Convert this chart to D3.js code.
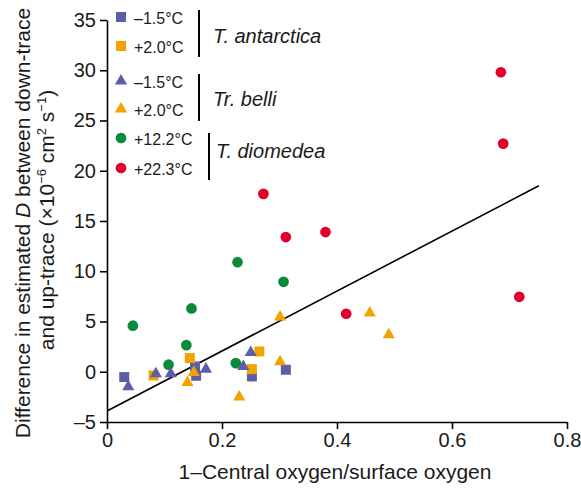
<!DOCTYPE html>
<html>
<head>
<meta charset="utf-8">
<script src="https://cdn.jsdelivr.net/npm/d3@7"></script>
<style>
  body { margin: 0; background: #fff; }
  text { font-family: "Liberation Sans", Arial, sans-serif; fill: #1a1a1a; }
  .axis path, .axis line { stroke: #000; stroke-width: 1.6; }
  .axis text { font-size: 20px; fill: #1a1a1a; }
</style>
</head>
<body>
<svg id="chart" width="581" height="488"></svg>
<script>
// values
const xTicks = [0, 0.2, 0.4, 0.6, 0.8];
const yTicks = [-5, 0, 5, 10, 15, 20, 25, 30, 35];

// T. antarctica
const antColdX = [0.030, 0.153, 0.155, 0.252, 0.311];
const antColdY = [-0.53, 0.53, -0.4, -0.47, 0.2];
const antWarmX = [0.081, 0.144, 0.252, 0.265];
const antWarmY = [-0.37, 1.36, 0.26, 2.02];
// Tr. belli
const belColdX = [0.037, 0.085, 0.111, 0.172, 0.237, 0.250];
const belColdY = [-1.5, -0.2, -0.2, 0.26, 0.53, 1.92];
const belWarmX = [0.140, 0.151, 0.230, 0.301, 0.301, 0.457, 0.490];
const belWarmY = [-1.06, -0.07, -2.52, 1.0, 5.44, 5.84, 3.68];
// T. diomedea
const dioColdX = [0.045, 0.107, 0.138, 0.147, 0.227, 0.224, 0.307];
const dioColdY = [4.58, 0.7, 2.65, 6.3, 10.9, 0.86, 8.95];
const dioWarmX = [0.272, 0.311, 0.380, 0.416, 0.685, 0.689, 0.717];
const dioWarmY = [17.7, 13.4, 13.9, 5.77, 29.8, 22.7, 7.46];

// fitted line end points
const fitX = [0, 0.751];
const fitY = [-3.9, 18.5];

const blue = "#5c5ea8", orange = "#f2a300", green = "#0a8a3a", red = "#e2002a";

const series = [
  { x: dioColdX, y: dioColdY, shape: d3.symbolCircle, size: 90, color: green, label: "+12.2°C" },
  { x: dioWarmX, y: dioWarmY, shape: d3.symbolCircle, size: 90, color: red, label: "+22.3°C" },
  { x: antColdX, y: antColdY, shape: d3.symbolSquare, size: 100, color: blue, label: "\u20131.5°C" },
  { x: antWarmX, y: antWarmY, shape: d3.symbolSquare, size: 100, color: orange, label: "+2.0°C" },
  { x: belColdX, y: belColdY, shape: d3.symbolTriangle, size: 64, color: blue, label: "\u20131.5°C" },
  { x: belWarmX, y: belWarmY, shape: d3.symbolTriangle, size: 64, color: orange, label: "+2.0°C" }
];

const svg = d3.select("#chart");
const x = d3.scaleLinear().domain([0, 0.8]).range([107, 567]);
const y = d3.scaleLinear().domain([-5, 35]).range([422, 20]);

// axes
svg.append("g").attr("class", "axis")
  .attr("transform", "translate(0,422)")
  .call(d3.axisBottom(x).tickValues(xTicks).tickSize(7).tickSizeOuter(0).tickPadding(4)
    .tickFormat(d => d === 0 ? "0" : d3.format(".1f")(d)));
svg.append("g").attr("class", "axis")
  .attr("transform", "translate(107,0)")
  .call(d3.axisLeft(y).tickValues(yTicks).tickSize(7).tickSizeOuter(0).tickPadding(4)
    .tickFormat(d => d < 0 ? "\u2013" + Math.abs(d) : d));

// regression line
svg.append("line")
  .attr("x1", x(fitX[0])).attr("y1", y(fitY[0]))
  .attr("x2", x(fitX[1])).attr("y2", y(fitY[1]))
  .attr("stroke", "#000").attr("stroke-width", 1.6);

// points
series.forEach(s => {
  const sym = d3.symbol().type(s.shape).size(s.size);
  svg.append("g").selectAll("path")
    .data(s.x.map((v, i) => [v, s.y[i]]))
    .join("path")
    .attr("d", sym)
    .attr("transform", d => `translate(${x(d[0])},${y(d[1])})`)
    .attr("fill", s.color);
});

// legend
const legendOrder = [2, 3, 4, 5, 0, 1];
const legendY = [17, 46, 81, 109, 138, 168];
const leg = svg.append("g");
legendOrder.forEach((k, i) => {
  const s = series[k];
  leg.append("path")
    .attr("d", d3.symbol().type(s.shape).size(s.size)())
    .attr("transform", `translate(121,${legendY[i]})`)
    .attr("fill", s.color);
  leg.append("text")
    .attr("x", 134).attr("y", legendY[i] + 7)
    .attr("font-size", 16)
    .text(s.label);
});

const groups = [
  { name: "T. antarctica", bx: 199, y0: 10, y1: 57, tx: 213, ty: 43 },
  { name: "Tr. belli", bx: 199, y0: 74, y1: 121, tx: 213, ty: 106 },
  { name: "T. diomedea", bx: 209, y0: 133, y1: 180, tx: 216, ty: 158 }
];
groups.forEach(g => {
  leg.append("line").attr("x1", g.bx).attr("x2", g.bx)
    .attr("y1", g.y0).attr("y2", g.y1)
    .attr("stroke", "#000").attr("stroke-width", 2);
  leg.append("text").attr("x", g.tx).attr("y", g.ty)
    .attr("font-size", 20).attr("font-style", "italic")
    .text(g.name);
});

// axis titles
svg.append("text")
  .attr("x", 335).attr("y", 479)
  .attr("text-anchor", "middle").attr("font-size", 21)
  .text("1\u2013Central oxygen/surface oxygen");

const yl = svg.append("text")
  .attr("transform", "translate(30,223) rotate(-90)")
  .attr("text-anchor", "middle").attr("font-size", 21);
yl.append("tspan").text("Difference in estimated ");
yl.append("tspan").attr("font-style", "italic").text("D");
yl.append("tspan").text(" between down-trace");

const yl2 = svg.append("text")
  .attr("transform", "translate(54,220) rotate(-90)")
  .attr("text-anchor", "middle").attr("font-size", 21);
yl2.append("tspan").text("and up-trace (\u00d710");
yl2.append("tspan").attr("font-size", 13).attr("dy", -8).text("\u22126");
yl2.append("tspan").attr("dy", 8).text(" cm");
yl2.append("tspan").attr("font-size", 13).attr("dy", -8).text("2");
yl2.append("tspan").attr("dy", 8).text(" s");
yl2.append("tspan").attr("font-size", 13).attr("dy", -8).text("\u22121");
yl2.append("tspan").attr("dy", 8).text(")");
</script>
</body>
</html>
